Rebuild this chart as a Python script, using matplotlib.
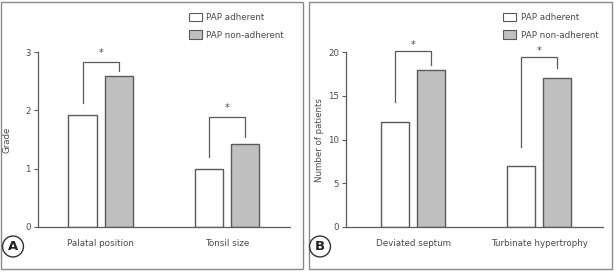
import numpy as np
import matplotlib
matplotlib.use("Agg")
import matplotlib.pyplot as plt
from matplotlib.patches import Rectangle

# data
cats_a = ["Palatal position", "Tonsil size"]
adherent_a = [1.93, 1.0]
nonadherent_a = [2.59, 1.42]

cats_b = ["Deviated septum", "Turbinate hypertrophy"]
adherent_b = [12, 7]
nonadherent_b = [18, 17]

series_labels = ["PAP adherent", "PAP non-adherent"]

# bracket heights: (left foot, top, right foot, star)
brackets_a = [(2.12, 2.83, 2.67, 2.98), (1.20, 1.89, 1.54, 2.04)]
brackets_b = [(14.3, 20.1, 18.6, 20.8), (9.1, 19.5, 18.2, 20.2)]

W, H = 614, 272
TXT = "#4a4a4a"
EDGE = "#5a5a5a"
GREY = "#c0c0c0"

plt.rcParams["font.family"] = ["DejaVu Sans"]
fig = plt.figure(figsize=(W / 100, H / 100), dpi=100)


def fx(px):
    return px / W


def fy(py):
    return 1 - py / H


def panel(left_px, right_px, cats, adh, nonadh, brackets, ymax, yticks, ylabel,
          xlim, box_left, box_right, letter, letter_x, ylabel_x):
    ax = fig.add_axes([fx(left_px), fy(226.7), fx(right_px - left_px), (226.7 - 52.3) / H])
    x = np.arange(len(cats))
    w = 0.226
    off = 0.144
    ax.bar(x - off, adh, w, color="white", edgecolor=EDGE, linewidth=1.0)
    ax.bar(x + off, nonadh, w, color=GREY, edgecolor=EDGE, linewidth=1.0)
    ax.set_xlim(*xlim)
    ax.set_ylim(0, ymax)
    ax.set_yticks(yticks)
    ax.set_xticks(x)
    ax.set_xticklabels(cats)
    ax.tick_params(axis="x", length=0, pad=9, labelsize=6.3, labelcolor=TXT)
    ax.tick_params(axis="y", length=3, width=0.8, color=EDGE, labelsize=6.2,
                   labelcolor=TXT, pad=2)
    for s in ["top", "right"]:
        ax.spines[s].set_visible(False)
    for s in ["left", "bottom"]:
        ax.spines[s].set_color(EDGE)
        ax.spines[s].set_linewidth(0.9)
    ax.set_facecolor("none")
    fig.text(fx(ylabel_x), fy(140), ylabel, rotation=90, ha="center", va="center",
             fontsize=6.2, color=TXT)

    # significance brackets
    for i, (lf, top, rf, st) in enumerate(brackets):
        xl, xr = x[i] - off, x[i] + off
        ax.plot([xl, xl, xr, xr], [lf, top, top, rf], color=EDGE, lw=0.9,
                clip_on=False)
        ax.text(x[i], st, "*", ha="center", va="center", fontsize=7, color=TXT)

    # legend boxes
    fig.add_artist(Rectangle((fx(box_left), fy(21)), fx(box_right - box_left), 8 / H,
                             facecolor="white", edgecolor=EDGE, lw=0.8,
                             transform=fig.transFigure))
    fig.add_artist(Rectangle((fx(box_left), fy(39)), fx(box_right - box_left), 8.5 / H,
                             facecolor=GREY, edgecolor=EDGE, lw=0.8,
                             transform=fig.transFigure))
    fig.text(fx(box_right + 5), fy(17), series_labels[0], ha="left", va="center",
             fontsize=6.3, color=TXT)
    fig.text(fx(box_right + 5), fy(35), series_labels[1], ha="left", va="center",
             fontsize=6.3, color=TXT)

    # panel letter
    fig.text(fx(letter_x), fy(246.5), letter,
             ha="center", va="center", fontsize=9.5, fontweight="bold", color="#222222",
             bbox=dict(boxstyle="circle,pad=0.3", facecolor="white",
                       edgecolor="#333333", lw=1.0))
    return ax


# panel borders
fig.add_artist(Rectangle((fx(1.5), fy(268.5)), fx(301.5), 267 / H, fill=False,
                         edgecolor="#8a8a8a", lw=1.0, transform=fig.transFigure))
fig.add_artist(Rectangle((fx(308.5), fy(268.5)), fx(303.5), 267 / H, fill=False,
                         edgecolor="#8a8a8a", lw=1.0, transform=fig.transFigure))

panel(37.7, 290, cats_a, adherent_a, nonadherent_a, brackets_a, 3, [0, 1, 2, 3],
      "Grade", (-0.5, 1.5), 188.5, 201.5, "A", 13, 7)
panel(346.3, 602.7, cats_b, adherent_b, nonadherent_b, brackets_b, 20,
      [0, 5, 10, 15, 20], "Number of patients", (-0.53, 1.505), 503, 516, "B", 320, 319)

fig.savefig("out.png", dpi=100)
